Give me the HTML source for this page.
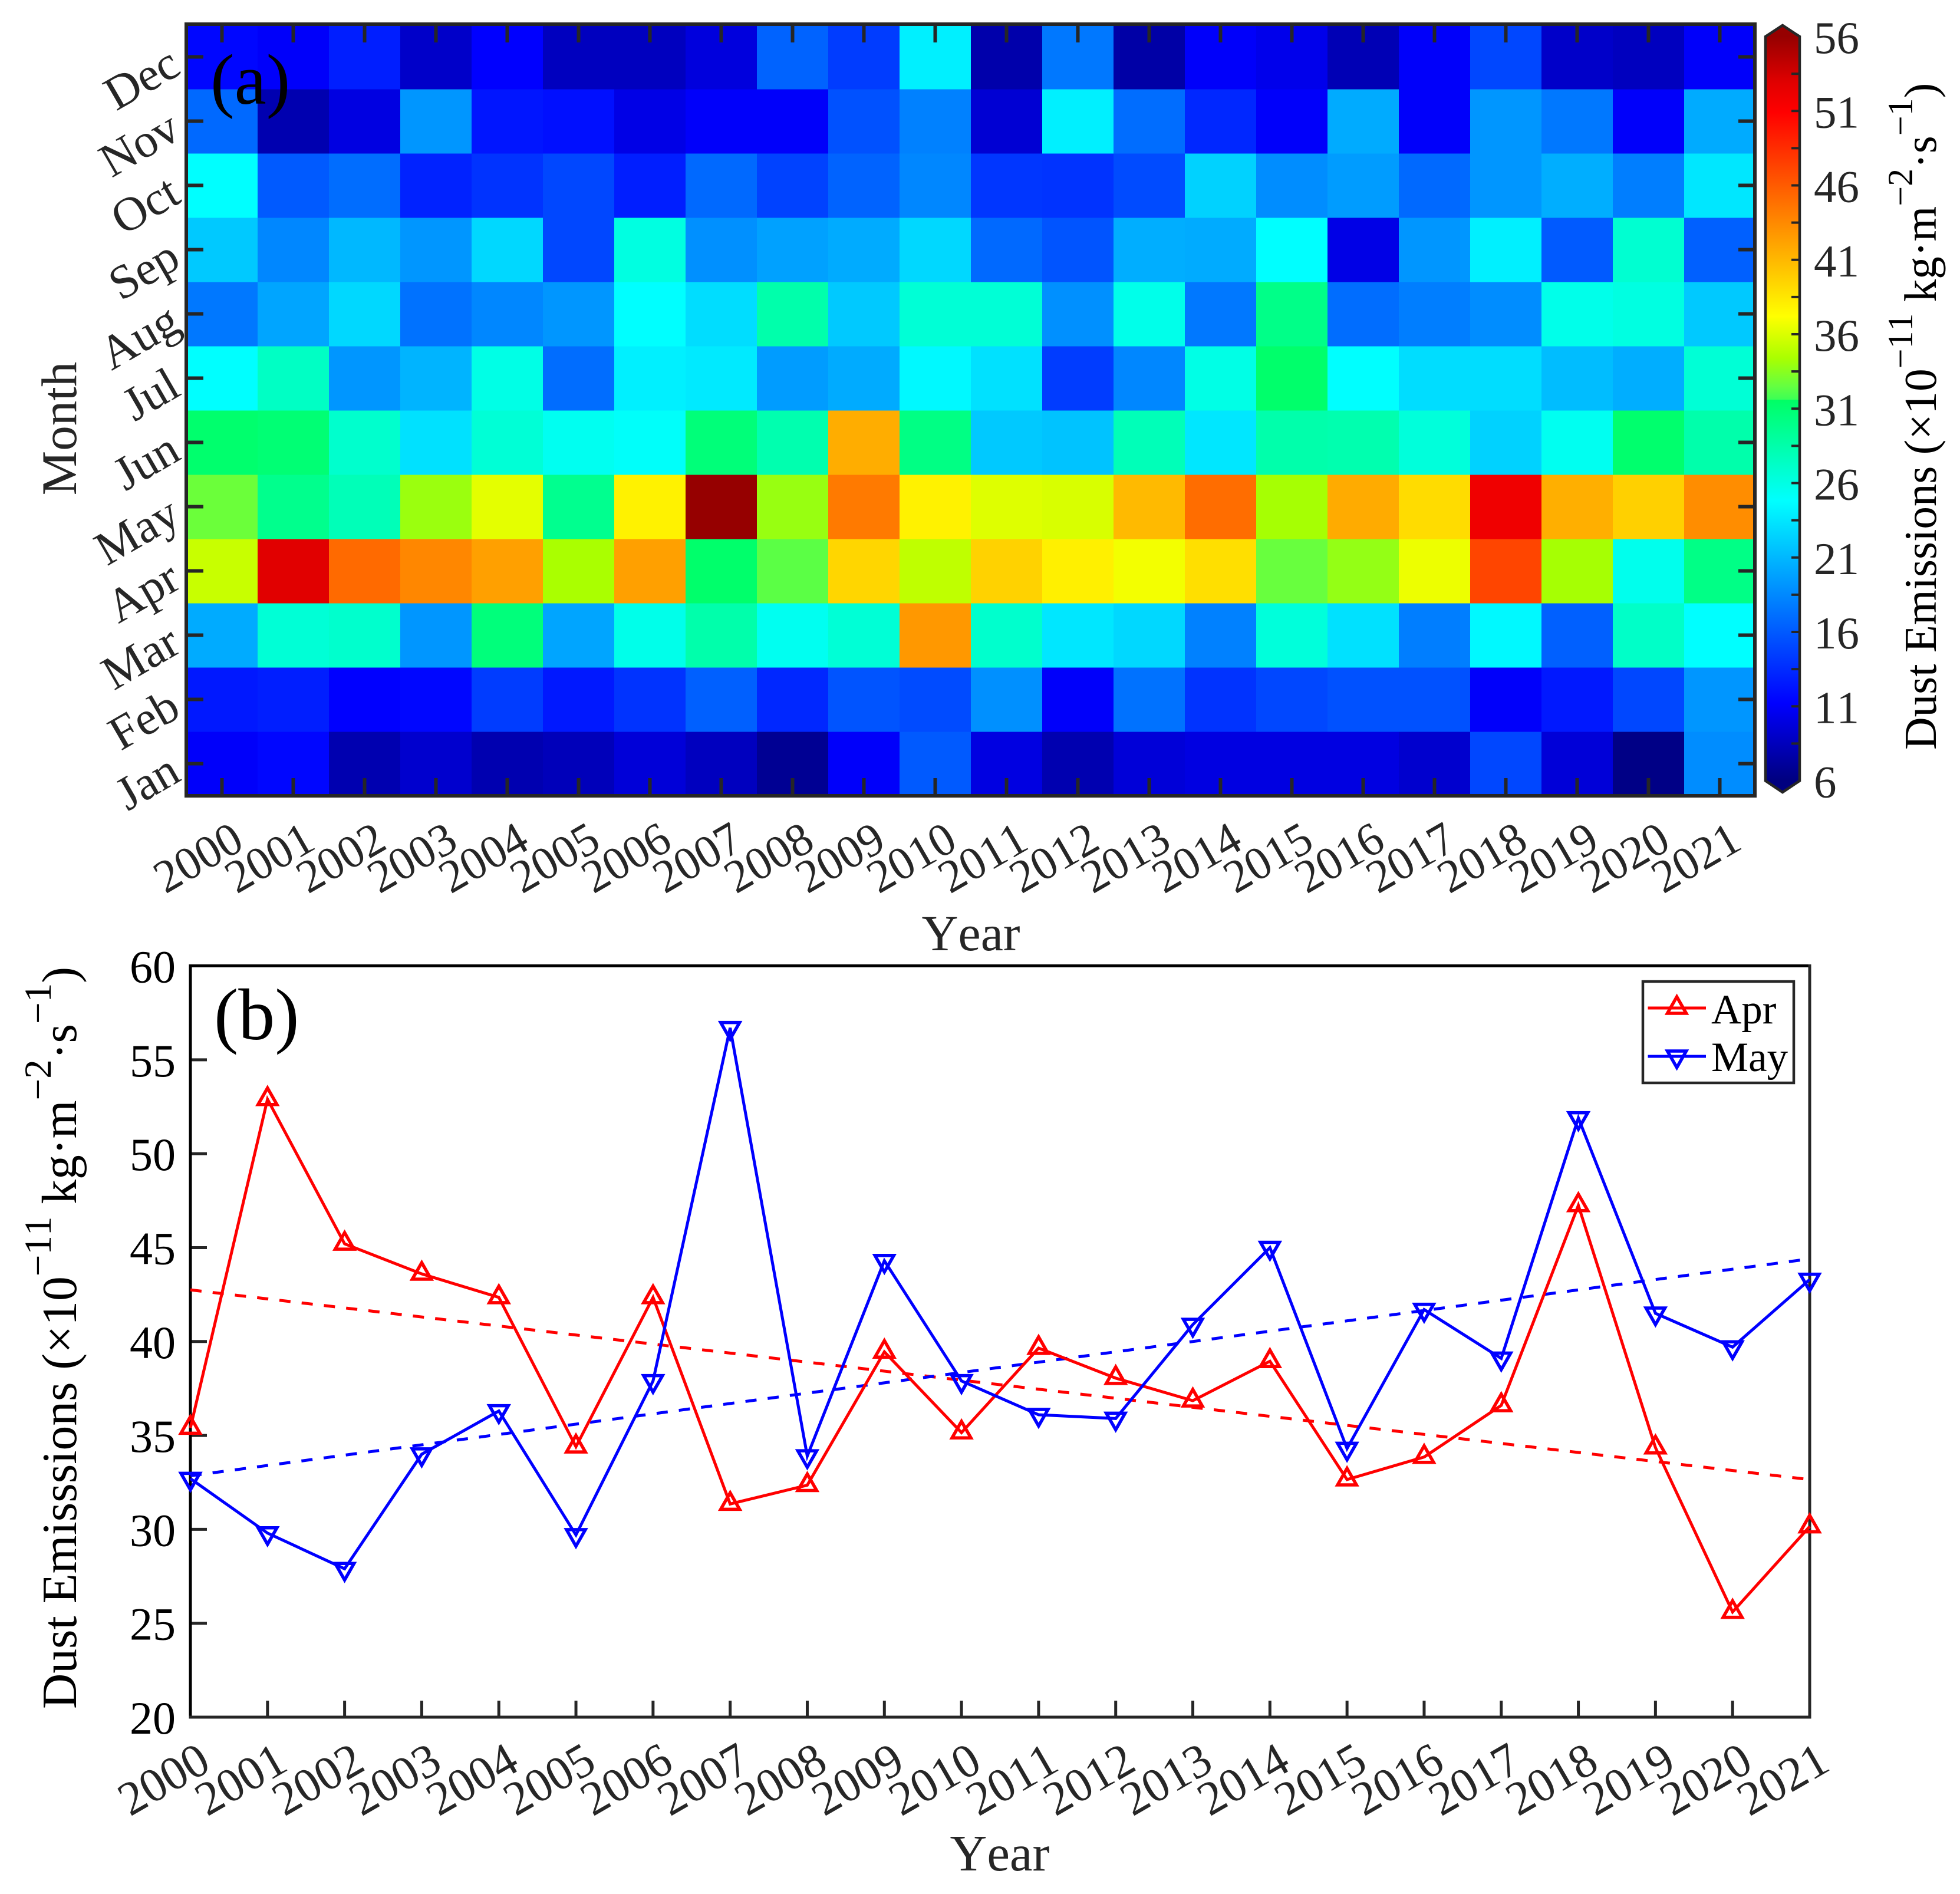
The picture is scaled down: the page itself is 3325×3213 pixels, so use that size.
<!DOCTYPE html>
<html>
<head>
<meta charset="utf-8">
<title>Dust Emissions</title>
<style>
html,body{margin:0;padding:0;background:#fff}
svg{display:block}
text{font-family:"Liberation Serif",serif;font-kerning:none}
</style>
</head>
<body>
<svg id="fig" xmlns="http://www.w3.org/2000/svg" width="3325" height="3213" viewBox="0 0 3325 3213">
<defs><linearGradient id="cbGrad" gradientUnits="userSpaceOnUse" x1="0" x2="0" y1="62" y2="1324.5"></linearGradient></defs>
<rect width="3325" height="3213" fill="#fff"/>
</svg>
<script>
var years = [2000,2001,2002,2003,2004,2005,2006,2007,2008,2009,2010,2011,2012,2013,2014,2015,2016,2017,2018,2019,2020,2021];
var months = ['Jan','Feb','Mar','Apr','May','Jun','Jul','Aug','Sep','Oct','Nov','Dec'];
var heatJan = [11,11.5,8,9.2,8,8.4,9.6,8.6,6.8,11,16,10,8,9.6,10,10,10,9.2,15,9.6,6.3,18.7];
var heatFeb = [12.5,12.8,11.2,11.5,14.4,12.5,13.9,16.3,13.3,15.7,15.2,18.9,11,17.3,13.9,15,15.5,15.5,11,12.5,15,19.2];
var heatMar = [20.3,26.6,27,19.2,30.6,20,25.7,28.5,25.4,26.6,42.7,27,23.5,22.7,18.1,26.4,23.2,17.9,24.5,16.3,27.2,24.8];
var heatApr = [35.4,52.9,45.2,43.6,42.3,34.4,42.3,31.3,32.3,39.4,35.1,39.6,38.0,36.8,38.9,32.6,33.8,36.6,47.2,34.3,25.6,30.1];
var heatMay = [32.7,29.8,27.9,34.0,36.3,29.7,37.9,56.7,33.9,44.3,37.9,36.1,35.9,40.9,45.0,34.3,41.7,39.1,51.9,41.5,39.7,43.3];
var heatJun = [31.2,30.9,27,23.2,26.6,25.4,25,30.7,28.3,41.6,30.2,21.9,21.6,27.9,23.5,28.5,28.3,26.4,22.4,25.4,31.2,28.5];
var heatJul = [24.8,27.4,19.2,20.8,25.9,17,24,23.7,19.5,20.3,24.5,23.2,14.4,18.4,25.9,31.3,24.8,23,23,21.3,20.5,26.6];
var heatAug = [17.6,20,22.7,17.3,18.4,19.2,24.8,23,28.5,21.9,26.6,26.6,18.9,25.7,17.6,30,17,17.9,18.7,25.7,26.1,21.9];
var heatSep = [21.9,18.4,21,19.2,22.7,15,26.1,18.9,19.8,20.3,22.7,16.8,15.7,20.5,20.3,24.8,10.2,19.2,24,16,26.8,16.3];
var heatOct = [24.8,16,17,13,13.9,15,12.8,16.8,14.7,16.5,18.4,14.1,13.9,15.2,22.4,18.7,19.5,16.8,19.2,20.5,17.9,23.5];
var heatNov = [16.8,8,10,19.2,12.3,12,10.2,11,11,15.5,18.1,9.4,24,17,13.3,11,20.3,11,19.2,17.6,11,20.3];
var heatDec = [11.5,11,12.8,9,11.2,8.6,8.6,9.8,16.5,14.4,24,7.8,17.6,7.6,11,10.4,8.2,11,15,9,8.6,11];
var aprSeries = [35.4,52.9,45.2,43.6,42.35,34.4,42.35,31.35,32.35,39.45,35.15,39.65,38.05,36.85,38.95,32.65,33.85,36.6,47.25,34.35,25.6,30.15];
var maySeries = [32.7,29.8,27.9,34.0,36.3,29.7,37.9,56.7,33.9,44.3,37.9,36.1,35.9,40.9,45.0,34.3,41.7,39.1,51.9,41.5,39.7,43.3];
var aprTrendEnds = [42.75,32.65];
var mayTrendEnds = [32.85,44.4];
var colorbarTicks = [6,11,16,21,26,31,36,41,46,51,56];
var colorbarMinorTicks = [8.5,13.5,18.5,23.5,28.5,33.5,38.5,43.5,48.5,53.5];
var lineYTicks = [20,25,30,35,40,45,50,55,60];

var heatRows = [heatJan,heatFeb,heatMar,heatApr,heatMay,heatJun,heatJul,heatAug,heatSep,heatOct,heatNov,heatDec];

var NS = 'http://www.w3.org/2000/svg';
var fig = document.getElementById('fig');
var INK = '#262626';

function mk(tag, attrs, parent) {
  var el = document.createElementNS(NS, tag);
  for (var k in attrs) el.setAttribute(k, attrs[k]);
  (parent || fig).appendChild(el);
  return el;
}
function label(str, x, y, size, fill, anchor, rot, parent) {
  var a = {x:x, y:y, 'font-size':size, fill:fill, 'text-anchor':anchor||'start'};
  if (rot) a.transform = 'rotate(' + rot + ' ' + x + ' ' + y + ')';
  var t = mk('text', a, parent);
  t.textContent = str;
  return t;
}
function unitLabel(word, x, y, size, supSize, rise, name) {
  var t = mk('text', {'font-size':size, fill:'#000', transform:'translate(' + x + ' ' + y + ') rotate(-90)', x:0, y:0});
  
  
  var parts = [[word + ' (\u00d710',0],['\u221211',1],[' kg\u00b7m',0],['\u22122',1],['\u00b7s',0],['\u22121',1],[')',0]];
  var up = false;
  parts.forEach(function(p){
    var s = mk('tspan', {}, t);
    if (p[1]) { s.setAttribute('font-size', supSize); s.setAttribute('dy', -rise); up = true; }
    else if (up) { s.setAttribute('dy', rise); up = false; }
    s.textContent = p[0];
  });
  t.setAttribute('xml:space', 'preserve');
  t.style.whiteSpace = 'pre';
  return t;
}

/* colormap */
var cmapStops = [
  [6,0,0,127],[11.2,0,0,255],[24.8,0,255,255],[31.6,0,255,100],[31.61,60,255,85],
  [32.5,100,255,65],[34.4,170,255,0],[37.2,255,255,0],[44,255,128,0],[50.9,255,0,0],[52.9,225,0,0],[56,150,0,0]
];
function cmap(v) {
  if (v <= cmapStops[0][0]) return 'rgb(0,0,127)';
  for (var i = 1; i < cmapStops.length; i++) {
    var a = cmapStops[i-1], b = cmapStops[i];
    if (v <= b[0]) {
      var f = (v - a[0]) / (b[0] - a[0]);
      return 'rgb(' + Math.round(a[1]+(b[1]-a[1])*f) + ',' + Math.round(a[2]+(b[2]-a[2])*f) + ',' + Math.round(a[3]+(b[3]-a[3])*f) + ')';
    }
  }
  return 'rgb(150,0,0)';
}

/* ---------- panel (a) ---------- */
var ax = {x0:316, x1:2978, y0:42, y1:1350};
var cellW = (ax.x1 - ax.x0) / years.length;
var cellH = (ax.y1 - ax.y0) / months.length;
function heatX(i) { return ax.x0 + i * cellW; }
function heatY(m) { return ax.y1 - (m + 1) * cellH; }

var gHeat = mk('g', {'shape-rendering':'crispEdges'});


heatRows.forEach(function(row, m){
  row.forEach(function(v, i){
    var c = mk('rect', {x:heatX(i), y:heatY(m), width:cellW+0.5, height:cellH+0.5, fill:cmap(v)}, gHeat);
    
    
  });
});

var gTicksA = mk('g', {stroke:INK, 'stroke-width':6});


years.forEach(function(y, i){
  var x = heatX(i) + cellW / 2;
  mk('line', {x1:x, x2:x, y1:ax.y1, y2:ax.y1-30}, gTicksA);
  mk('line', {x1:x, x2:x, y1:ax.y0, y2:ax.y0+30}, gTicksA);
  var t = label(String(y), x + 41, 1438, 79, INK, 'end', -30);
  
  
});
months.forEach(function(mn, m){
  var y = heatY(m) + cellH / 2;
  mk('line', {x1:ax.x0, x2:ax.x0+29, y1:y, y2:y}, gTicksA);
  mk('line', {x1:ax.x1, x2:ax.x1-29, y1:y, y2:y}, gTicksA);
  var t = label(mn, 310, y + 27, 81, INK, 'end', -30);
  
  
});
var frameA = mk('rect', {x:ax.x0, y:ax.y0-1, width:ax.x1-ax.x0-1, height:ax.y1-ax.y0+1, fill:'none', stroke:INK, 'stroke-width':6});



var tA = label('(a)', 357, 176, 122, '#000');


var xA = label('Year', 1647, 1612, 86, INK, 'middle');


var yA = label('Month', 129, 727, 85, INK, 'middle', -90);



/* colorbar */
var cb = {x0:2995, x1:3053, yTop:62, yBot:1324.5, tipTop:43, tipBot:1344, vMin:6, vMax:56};
function cbY(v) { return cb.yBot - (v - cb.vMin) / (cb.vMax - cb.vMin) * (cb.yBot - cb.yTop); }
var grad = document.getElementById('cbGrad');
cmapStops.slice().reverse().forEach(function(s){
  mk('stop', {offset:(cbY(s[0]) - cb.yTop) / (cb.yBot - cb.yTop), 'stop-color':'rgb(' + s[1] + ',' + s[2] + ',' + s[3] + ')'}, grad);
});
var cbMid = (cb.x0 + cb.x1) / 2;
var cbBody = mk('polygon', {
  points:[cb.x0,cb.yTop,cbMid,cb.tipTop,cb.x1,cb.yTop,cb.x1,cb.yBot,cbMid,cb.tipBot,cb.x0,cb.yBot].join(' '),
  fill:'url(#cbGrad)', stroke:INK, 'stroke-width':4.5, 'stroke-linejoin':'miter'
});


var gCb = mk('g', {stroke:INK, 'stroke-width':4});


colorbarMinorTicks.concat(colorbarTicks.slice(1, -1)).forEach(function(v){
  mk('line', {x1:cb.x1, x2:cb.x1-14, y1:cbY(v), y2:cbY(v)}, gCb);
});
colorbarTicks.forEach(function(v){
  var t = label(String(v), 3077, cbY(v) + 28, 77, INK);
  
  
});
unitLabel('Dust Emissions', 3284, 1272, 77, 60, 40, 'colorbar-title');

/* ---------- panel (b) ---------- */
var bx = {x0:323, x1:3070, y0:1638.5, y1:2913, vMin:20, vMax:60};
function lineX(i) { return bx.x0 + i / (years.length - 1) * (bx.x1 - bx.x0); }
function lineY(v) { return bx.y1 - (v - bx.vMin) / (bx.vMax - bx.vMin) * (bx.y1 - bx.y0); }

var gTicksB = mk('g', {stroke:INK, 'stroke-width':5});


years.forEach(function(y, i){
  var x = lineX(i);
  mk('line', {x1:x, x2:x, y1:bx.y1, y2:bx.y1-28}, gTicksB);
  var t = label(String(y), x + 38, 3001, 81, INK, 'end', -30);
  
  
});
lineYTicks.forEach(function(v){
  var y = lineY(v);
  mk('line', {x1:bx.x0, x2:bx.x0+28, y1:y, y2:y}, gTicksB);
  var t = label(String(v), 298, y + 28, 78, '#000', 'end');
  
  
});
var frameB = mk('g', {'stroke-width':5, 'stroke-linecap':'square'});


mk('line', {x1:bx.x0, x2:bx.x0, y1:bx.y0, y2:bx.y1, stroke:'#000'}, frameB);
mk('line', {x1:bx.x0, x2:bx.x1, y1:bx.y0, y2:bx.y0, stroke:'#000'}, frameB);
mk('line', {x1:bx.x0, x2:bx.x1, y1:bx.y1, y2:bx.y1, stroke:INK}, frameB);
mk('line', {x1:bx.x1, x2:bx.x1, y1:bx.y0, y2:bx.y1, stroke:INK}, frameB);

function trianglePoints(cx, cy, dir) {
  return [cx, cy - 19*dir, cx + 16, cy + 9*dir, cx - 16, cy + 9*dir].join(' ');
}
function drawTrend(ends, color, name) {
  var l = mk('line', {x1:lineX(0), y1:lineY(ends[0]), x2:lineX(years.length-1), y2:lineY(ends[1]), stroke:color, 'stroke-width':5, 'stroke-dasharray':'19 19', fill:'none'});
  
  
}
function drawSeries(vals, color, dir, name) {
  var g = mk('g', {fill:'none', stroke:color, 'stroke-width':5, 'stroke-linejoin':'miter'});
  
  
  var pts = vals.map(function(v, i){ return lineX(i) + ',' + lineY(v); }).join(' ');
  var pl = mk('polyline', {points:pts}, g);
  
  
  vals.forEach(function(v, i){
    var m = mk('polygon', {points:trianglePoints(lineX(i), lineY(v), dir), 'stroke-width':5.5}, g);
    
    
  });
}
drawTrend(aprTrendEnds, '#f00', 'apr-trend-line');
drawTrend(mayTrendEnds, '#00f', 'may-trend-line');
drawSeries(aprSeries, '#f00', 1, 'apr-series');
drawSeries(maySeries, '#00f', -1, 'may-series');

var tB = label('(b)', 363, 1763, 124, '#000');


var xB = label('Year', 1696, 3173, 87, INK, 'middle');


unitLabel('Dust Emisssions', 129, 2899, 83.5, 65, 43, 'line-y-axis-title');

/* legend */
var gLeg = mk('g', {});


var legBox = mk('rect', {x:2787, y:1665, width:256, height:172, fill:'#fff', stroke:INK, 'stroke-width':4.5}, gLeg);


function legendEntry(txt, color, dir, y, base) {
  var g = mk('g', {}, gLeg);
  
  
  mk('line', {x1:2795.5, x2:2894, y1:y, y2:y, stroke:color, 'stroke-width':5}, g);
  mk('polygon', {points:trianglePoints(2844.6, y, dir), fill:'none', stroke:color, 'stroke-width':5.5}, g);
  label(txt, 2903, base, 71, '#000', 'start', 0, g);
}
legendEntry('Apr', '#f00', 1, 1710, 1736);
legendEntry('May', '#00f', -1, 1792, 1817);
</script>
</body>
</html>
